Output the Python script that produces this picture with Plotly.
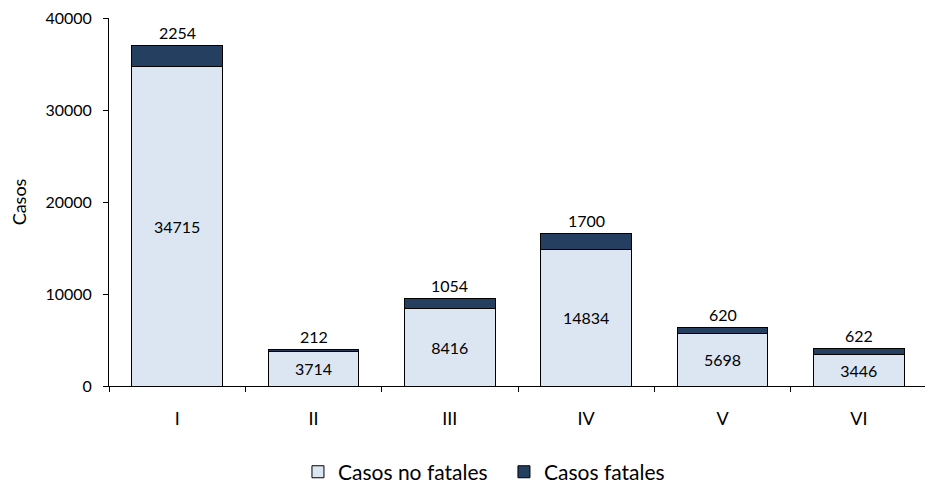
import plotly.graph_objects as go

categorias = ["I", "II", "III", "IV", "V", "VI"]
no_fatales = [34715, 3714, 8416, 14834, 5698, 3446]
fatales = [2254, 212, 1054, 1700, 620, 622]

FONT = "Lato"
fig = go.Figure()
fig.add_trace(go.Bar(
    x=categorias, y=no_fatales, name="Casos no fatales",
    marker=dict(color="#dce6f2", line=dict(color="black", width=1)),
    text=[str(v) for v in no_fatales], textposition="inside",
    insidetextanchor="middle", textfont=dict(color="black", size=16, family=FONT),
    constraintext="none",
))
fig.add_trace(go.Bar(
    x=categorias, y=fatales, name="Casos fatales",
    marker=dict(color="#243f60", line=dict(color="black", width=1)),
))
for c, a, b in zip(categorias, no_fatales, fatales):
    fig.add_annotation(x=c, y=a + b, text=str(b), showarrow=False,
                       yanchor="bottom", yshift=2,
                       font=dict(size=16, color="black", family=FONT))

fig.update_layout(
    barmode="stack", bargap=0.333,
    width=925, height=477,
    margin=dict(l=101, r=6, t=10, b=99, autoexpand=False),
    paper_bgcolor="white", plot_bgcolor="white",
    font=dict(family=FONT, size=16, color="black"),
    showlegend=True,
    legend=dict(orientation="h", x=0.231, xanchor="left", y=-0.234, yanchor="middle",
                font=dict(size=21, family=FONT), traceorder="normal",
                itemwidth=30, entrywidth=161, entrywidthmode="pixels"),
)
fig.update_xaxes(showline=True, linecolor="black", linewidth=1, automargin=False,
                 ticks="outside", tickson="boundaries", ticklen=5, tickcolor="black",
                 ticklabelstandoff=16,
                 tickfont=dict(size=18, family=FONT))
fig.update_yaxes(range=[0, 40000], dtick=10000, showgrid=False, zeroline=False,
                 automargin=False, tickformat="d", ticklabeloverflow="allow",
                 showline=True, linecolor="black", linewidth=1,
                 ticks="outside", ticklen=5, tickcolor="black",
                 ticklabelstandoff=8,
                 tickfont=dict(size=16, family=FONT),
                 title=dict(text="Casos", font=dict(size=18, family=FONT), standoff=18))
fig.write_html("out.html")
